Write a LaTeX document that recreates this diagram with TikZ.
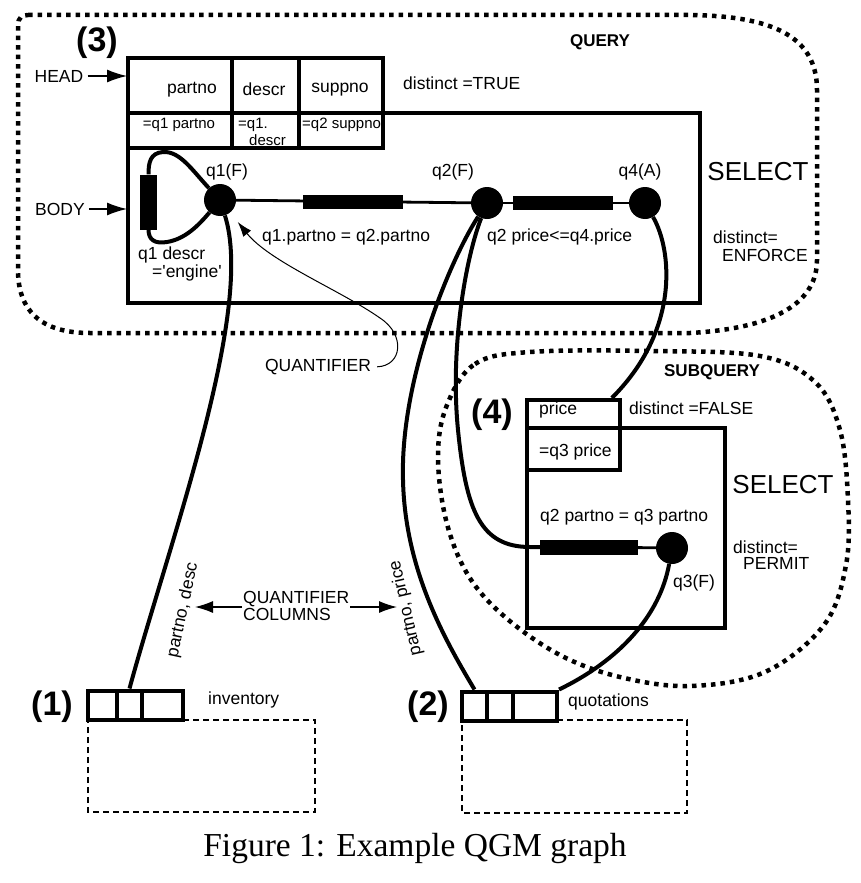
\documentclass[tikz,border=0pt]{standalone}
\usepackage{fontspec}
\setmainfont{Liberation Sans}
\newfontfamily\serifcap{Liberation Serif}
\usetikzlibrary{arrows.meta}
\newcommand\lblfont{\fontsize{17.5}{17}\selectfont}
\newcommand\smlfont{\fontsize{15}{16}\selectfont}
\newcommand\selfont{\fontsize{26}{28}\selectfont}
\newcommand\numfont{\fontsize{34}{36}\selectfont\bfseries}
\newcommand\ttlfont{\fontsize{17}{19}\selectfont\bfseries}
\newcommand\capfont{\serifcap\fontsize{33.5}{36}\selectfont}
\begin{document}
\begin{tikzpicture}[x=1pt,y=-1pt,
  lbl/.style={font=\lblfont, inner sep=0pt},
  sml/.style={font=\smlfont, inner sep=0pt},
  sel/.style={font=\selfont, inner sep=0pt},
  num/.style={font=\numfont, inner sep=0pt},
  ttl/.style={font=\ttlfont, inner sep=0pt},
  frame/.style={line width=4pt},
  conn/.style={line width=4pt},
  thinconn/.style={line width=2.8pt},
  bar/.style={fill=black, draw=none, minimum width=100pt, minimum height=14pt, inner sep=0pt},
  vnode/.style={circle, fill=black, minimum size=32pt, inner sep=0pt},
  cell/.style={draw, line width=4pt, minimum height=29pt, inner sep=0pt},
  dotline/.style={line width=4.5pt, dash pattern=on 4.5pt off 5pt},
  dashbox/.style={line width=2.5pt, dash pattern=on 6pt off 4pt},
  harrow/.style={line width=1.5pt, -{Latex[length=20pt,width=13pt]}},
  qarrow/.style={line width=1pt, -{Latex[length=15pt,width=10pt]}},
  carrow/.style={line width=1.2pt, -{Latex[length=18pt,width=12pt]}}
]
\useasboundingbox (0,0) rectangle (860,883);

% dotted regions
\draw[dotline] (28,15) -- (690,15) .. controls (770,16) and (817,35) .. (817,90)
  -- (817,260) .. controls (817,300) and (780,328) .. (690,333)
  -- (90,333) .. controls (40,333) and (18,310) .. (18,270)
  -- (18,25) .. controls (18,18) and (22,15) .. (28,15) -- cycle;
\draw[dotline] plot[smooth cycle, tension=0.6] coordinates {
  (447,405) (475,364) (530,352) (650,351) (760,356) (815,382) (840,430)
  (848,500) (846,565) (824,625) (765,672) (690,686) (620,677) (560,655)
  (505,617) (468,575) (446,520) (438,455)};

% query boxes
\draw[frame] (128,113) rectangle (700,303);
\draw[frame] (128,58) rectangle (383,148);
\draw[frame] (128,113) -- (383,113);
\draw[frame] (232,58) -- (232,148);
\draw[frame] (299,58) -- (299,148);

% subquery boxes
\draw[frame] (527,428) rectangle (725,628);
\node[draw, frame, minimum width=93pt, minimum height=70pt, inner sep=0pt] (ph) at (573.5,435) {};
\draw[frame] (527,428) -- (620,428);

% tables
\node[cell, minimum width=29pt] (inv1) at (102.5,705) {};
\node[cell, minimum width=25pt] (inv2) at (129.5,705) {};
\node[cell, minimum width=41pt] (inv3) at (162.5,705) {};
\draw[dashbox] (183,720) -- (315,720) -- (315,812) -- (88,812) -- (88,720);
\node[cell, minimum width=25pt] (quo1) at (474.5,706) {};
\node[cell, minimum width=26pt] (quo2) at (500,706) {};
\node[cell, minimum width=44pt] (quo3) at (535,706) {};
\draw[dashbox] (557,720) -- (687,720) -- (687,813) -- (462,813) -- (462,720);

% quantifier nodes
\node[vnode] (q1) at (220,200) {};
\node[vnode] (q2) at (487,203) {};
\node[vnode] (q4) at (645,203) {};
\node[vnode] (q3) at (672,548) {};

% connectors
\draw[thinconn] (q1) -- (q2);
\draw[thinconn] (q2) -- (q4);
\node[bar, minimum width=17pt, minimum height=55pt] (lb) at (148.5,202) {};
\draw[conn] (q1) .. controls (192,170) and (180,151) .. (163,152) .. controls (150,153) and (148.5,163) .. (lb.north);
\draw[conn] (lb.south) .. controls (148.5,240) and (155,244) .. (167,242) .. controls (185,239) and (198,226) .. (q1);
\draw[conn] (q1) .. controls (255,310) and (170,540) .. (inv2.north);
\draw[conn] (q2) .. controls (450,260) and (400,380) .. (403,480) .. controls (405,570) and (445,640) .. (quo1.north);
\draw[conn] (q2) .. controls (465,260) and (450,350) .. (458,430) .. controls (466,510) and (480,547) .. (530,547) -- (589,547);
\draw[thinconn] (589,547) -- (q3);
\draw[conn] (q4) .. controls (672,250) and (680,330) .. (ph.44);
\draw[conn] (q3) .. controls (660,615) and (620,660) .. (quo3.north east);
\node[bar] (b12) at (353,202) {};
\node[bar] (b24) at (563,203) {};
\node[bar, minimum width=98pt, minimum height=15pt] (b23) at (589,547) {};

% texts (top)
\node[num] (n3) at (97,43) {(3)};
\node[ttl] (tq) at (600,42) {QUERY};
\node[lbl] (thead) at (59,76) {HEAD};
\node[lbl] (tbody) at (60,209) {BODY};
\coordinate (headtip) at (127,76);
\coordinate (bodytip) at (127,209);
\draw[harrow, shorten <=4pt] (thead) -- (headtip);
\draw[harrow, shorten <=4pt] (tbody) -- (bodytip);
\node[lbl] (hp) at (192,90) {partno};
\node[lbl] (hd) at (264,89) {descr};
\node[lbl] (hs) at (340,90) {suppno};
\node[lbl, anchor=west] (dtrue) at (403,83) {distinct =TRUE};
\node[sml] (ep) at (179,125) {=q1 partno};
\node[sml, anchor=west] (ed1) at (238,125) {=q1.};
\node[sml, anchor=west] (ed2) at (249,140) {descr};
\node[sml, anchor=west] (es) at (302,125) {=q2 suppno};
\node[sel] (sel1) at (758,172) {SELECT};
\node[lbl, anchor=west] (de1) at (713,237) {distinct=};
\node[lbl, anchor=west] (de2) at (722,255) {ENFORCE};
\node[lbl] (l1) at (227,172) {q1(F)};
\node[lbl] (l2) at (453,172) {q2(F)};
\node[lbl] (l4) at (640,172) {q4(A)};
\node[lbl, anchor=west] (p12) at (262,237) {q1.partno = q2.partno};
\node[lbl, anchor=west] (p24) at (487,237) {q2 price<=q4.price};
\node[lbl, anchor=west] (pd1) at (138,255) {q1 descr};
\node[lbl, anchor=west] (pd2) at (152,273) {=\textquotesingle engine\textquotesingle};
\node[lbl] (quant) at (318,367) {QUANTIFIER};
\draw[qarrow, shorten <=6pt, shorten >=12pt] (quant.east) .. controls (402,366) and (406,335) .. (380,318) .. controls (340,290) and (270,262) .. (q1);

% subquery texts
\node[ttl] (tsq) at (712,372) {SUBQUERY};
\node[num] (n4) at (492,415) {(4)};
\node[lbl, anchor=west] (tpr) at (539,410) {price};
\node[lbl, anchor=west] (tpr2) at (539,452) {=q3 price};
\node[lbl, anchor=west] (dfalse) at (629,408) {distinct =FALSE};
\node[sel] (sel2) at (783,485) {SELECT};
\node[lbl, anchor=west] (p23) at (540,517) {q2 partno = q3 partno};
\node[lbl, anchor=west] (dp1) at (733,547) {distinct=};
\node[lbl, anchor=west] (dp2) at (743,563) {PERMIT};
\node[lbl, anchor=west] (l3) at (673,583) {q3(F)};

% bottom texts
\node[lbl, align=left, anchor=west, inner sep=1pt] (qc) at (242,606) {QUANTIFIER\\COLUMNS};
\coordinate (qcl) at (195,607);
\coordinate (qcr) at (397,607);
\draw[carrow] (qc.west |- qcl) -- (qcl);
\draw[carrow] (qc.east |- qcr) -- (qcr);
\node[lbl, rotate=78] (rc1) at (183,610) {partno, desc};
\node[lbl, rotate=103] (rc2) at (406,608) {partno, price};
\node[num] (n1) at (52,707) {(1)};
\node[num] (n2) at (428,707) {(2)};
\node[lbl, anchor=west] (tinv) at (208,700) {inventory};
\node[lbl, anchor=west] (tquo) at (568,702) {quotations};
\node[font=\capfont, inner sep=0pt] (cap) at (415,848) {Figure 1: Example QGM graph};
\end{tikzpicture}
\end{document}
